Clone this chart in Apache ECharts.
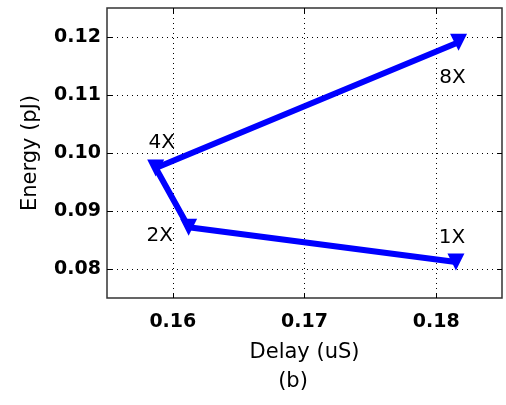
<!DOCTYPE html>
<html>
<head>
<meta charset="utf-8">
<script src="https://cdn.jsdelivr.net/npm/echarts@6/dist/echarts.min.js"></script>
<style>
  html, body { margin: 0; padding: 0; background: #fff; }
  #chart { width: 506px; height: 405px; }
</style>
</head>
<body>
<div id="chart"></div>
<script>
// Scaling factors and their delay / energy trade-off
const sizes = ['1X', '2X', '4X', '8X'];
const delayUs = [0.1815, 0.1612, 0.1587, 0.1817];
const energyPj = [0.0812, 0.0872, 0.0974, 0.1191];

// Axis ranges and tick positions
const xRange = [0.155, 0.185];
const yRange = [0.075, 0.125];
const xTicks = [0.16, 0.17, 0.18];
const yTicks = [0.08, 0.09, 0.10, 0.11, 0.12];

// Where each size label sits relative to its marker
const labelOffsets = {
  '1X': [-4, -24],
  '2X': [-29, 9],
  '4X': [6, -25],
  '8X': [-6, 36]
};

const font = '"DejaVu Sans", Verdana, sans-serif';

const points = sizes.map((s, i) => ({
  value: [delayUs[i], energyPj[i]],
  name: s,
  label: { offset: labelOffsets[s] }
}));

const dotted = { color: '#000', width: 1, type: [1, 4] };

function xAxisCfg(pos, withLabels) {
  return {
    type: 'value', position: pos, min: xRange[0], max: xRange[1],
    axisLine: { show: false },
    axisTick: { show: true, inside: true, length: 5, customValues: xTicks,
                lineStyle: { color: '#000' } },
    axisLabel: { show: withLabels, customValues: xTicks, margin: 15,
                 color: '#000', fontFamily: font, fontSize: 19, fontWeight: 'bold',
                 formatter: v => v.toFixed(2) },
    splitLine: { show: withLabels, lineStyle: dotted }
  };
}
function yAxisCfg(pos, withLabels) {
  return {
    type: 'value', position: pos, min: yRange[0], max: yRange[1],
    axisLine: { show: false },
    axisTick: { show: true, inside: true, length: 5, customValues: yTicks,
                lineStyle: { color: '#000' } },
    axisLabel: { show: withLabels, customValues: yTicks, margin: 6,
                 color: '#000', fontFamily: font, fontSize: 19, fontWeight: 'bold',
                 formatter: v => v.toFixed(2) },
    splitLine: { show: withLabels, lineStyle: dotted }
  };
}

const chart = echarts.init(document.getElementById('chart'), null, { renderer: 'canvas' });
chart.setOption({
  animation: false,
  backgroundColor: '#fff',
  grid: { left: 107, top: 8, right: 4, bottom: 107, show: true,
          borderColor: '#333', borderWidth: 1.5, backgroundColor: 'transparent' },
  xAxis: [
    Object.assign(xAxisCfg('bottom', true), {
      name: 'Delay (uS)', nameLocation: 'middle', nameGap: 44,
      nameTextStyle: { color: '#000', fontFamily: font, fontSize: 21 }
    }),
    xAxisCfg('top', false)
  ],
  yAxis: [
    Object.assign(yAxisCfg('left', true), {
      name: 'Energy (pJ)', nameLocation: 'middle', nameGap: 66,
      nameTextStyle: { color: '#000', fontFamily: font, fontSize: 21 }
    }),
    yAxisCfg('right', false)
  ],
  graphic: [{
    type: 'text', x: 293, y: 382,
    style: { text: '(b)', fill: '#000', font: '21px ' + font,
             textAlign: 'center', textVerticalAlign: 'middle' }
  }],
  series: [{
    type: 'line',
    data: points,
    lineStyle: { color: '#0000ff', width: 6 },
    itemStyle: { color: '#0000ff' },
    symbol: 'triangle', symbolRotate: 180, symbolSize: 17,
    label: { show: true, position: 'inside', formatter: p => p.name,
             color: '#000', fontFamily: font, fontSize: 20 },
    z: 5
  }]
});
</script>
</body>
</html>
